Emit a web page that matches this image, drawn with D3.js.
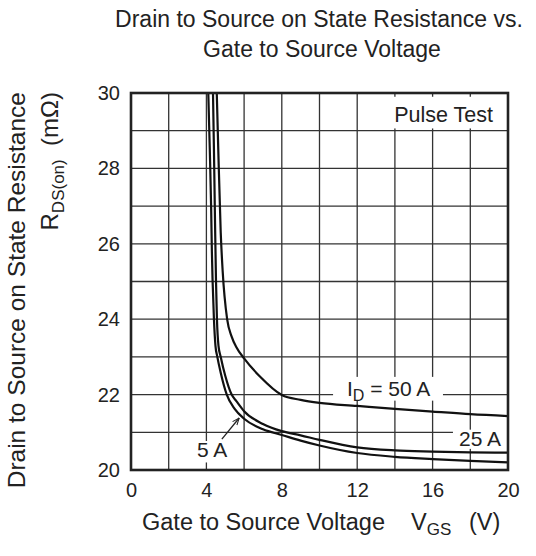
<!DOCTYPE html>
<html>
<head>
<meta charset="utf-8">
<script src="https://cdn.jsdelivr.net/npm/d3@7/dist/d3.min.js"></script>
<style>
  html, body { margin: 0; padding: 0; background: #fff; }
  svg { display: block; font-family: "Liberation Sans", Arial, Helvetica, sans-serif; }
</style>
</head>
<body>
<svg id="chart" width="536" height="556"></svg>
<script>
// ---- data (V_GS in volts, R_DS(on) in mΩ) ----
const curve5A = [[4.1,30],[4.18,28.5],[4.25,27],[4.29,25.8],[4.33,25],[4.4,24],[4.48,23.3],[4.58,23.0],[4.75,22.6],[5.08,22.0],[5.5,21.62],[6,21.36],[7,21.08],[8,20.93],[9,20.78],[10,20.65],[12,20.45],[14,20.35],[16,20.29],[18,20.24],[20,20.2]];
const curve25A = [[4.35,30],[4.4,28.5],[4.46,26.5],[4.51,25],[4.56,24],[4.64,23.3],[4.76,23.0],[5.0,22.5],[5.34,22.0],[5.6,21.82],[6,21.56],[7,21.22],[8,21.03],[9,20.92],[10,20.8],[12,20.6],[14,20.52],[16,20.49],[18,20.47],[20,20.46]];
const curve50A = [[4.55,30],[4.63,28.5],[4.76,26.3],[4.86,25.3],[5.1,24.0],[5.34,23.54],[5.6,23.25],[6,22.96],[6.84,22.48],[8,21.99],[9,21.86],[10,21.78],[12,21.7],[14,21.62],[16,21.55],[18,21.48],[20,21.43]];
const seriesLabels = ["5 A", "25 A", "50 A"];
const xTickLabels = [0, 4, 8, 12, 16, 20];
const yTickLabels = [20, 22, 24, 26, 28, 30];
const xGrid = [2, 4, 6, 8, 10, 12, 14, 16, 18];
const yGrid = [21, 22, 23, 24, 25, 26, 27, 28, 29];

const svg = d3.select("#chart");
const L = 131, R = 508, T = 93, B = 470;
const x = d3.scaleLinear().domain([0, 20]).range([L, R]);
const y = d3.scaleLinear().domain([20, 30]).range([B, T]);
const ink = "#222";

// grid
const g = svg.append("g");
g.selectAll("line.vx").data(xGrid).join("line")
  .attr("x1", d => x(d)).attr("x2", d => x(d)).attr("y1", T).attr("y2", B)
  .attr("stroke", "#333").attr("stroke-width", 1.3);
g.selectAll("line.hy").data(yGrid).join("line")
  .attr("y1", d => y(d)).attr("y2", d => y(d)).attr("x1", L).attr("x2", R)
  .attr("stroke", "#333").attr("stroke-width", 1.3);

// clip
svg.append("clipPath").attr("id", "clip").append("rect")
  .attr("x", L).attr("y", T).attr("width", R - L).attr("height", B - T);

// white boxes behind annotations
const boxes = [
  {x0: 13.6, x1: 19.8, y0: 29.9, y1: 29.06},
  {x0: 10.72, x1: 16.55, y0: 22.47, y1: 21.84},
  {x0: 17.08, x1: 20, y0: 21.07, y1: 20.56},
  {x0: 3.5, x1: 5.2, y0: 20.77, y1: 20.2}
];
svg.append("g").selectAll("rect").data(boxes).join("rect")
  .attr("x", d => x(d.x0)).attr("width", d => x(d.x1) - x(d.x0))
  .attr("y", d => y(d.y0)).attr("height", d => y(d.y1) - y(d.y0))
  .attr("fill", "#fff");

// curves
const line = d3.line().x(d => x(d[0])).y(d => y(d[1])).curve(d3.curveMonotoneX);
svg.append("g").attr("clip-path", "url(#clip)")
  .selectAll("path").data([curve5A, curve25A, curve50A]).join("path")
  .attr("d", line).attr("fill", "none").attr("stroke", "#111").attr("stroke-width", 2.2);

// frame
svg.append("rect").attr("x", L).attr("y", T).attr("width", R - L).attr("height", B - T)
  .attr("fill", "none").attr("stroke", ink).attr("stroke-width", 2.6);

// tick labels via d3 axes (no tick lines)
const xAxis = d3.axisBottom(x).tickValues(xTickLabels).tickSize(0).tickPadding(0);
const gx = svg.append("g").attr("transform", `translate(0,${B})`).call(xAxis);
gx.select(".domain").remove();
gx.selectAll("text").attr("font-size", 20).attr("fill", ink)
  .attr("font-family", "Liberation Sans, Arial, sans-serif").attr("dy", "1.33em");

const yAxis = d3.axisLeft(y).tickValues(yTickLabels).tickSize(0).tickPadding(11);
const gy = svg.append("g").attr("transform", `translate(${L},0)`).call(yAxis);
gy.select(".domain").remove();
gy.selectAll("text").attr("font-size", 20).attr("fill", ink)
  .attr("font-family", "Liberation Sans, Arial, sans-serif");

// title
const title = svg.append("text").attr("text-anchor", "middle").attr("font-size", 23).attr("fill", ink);
title.append("tspan").attr("x", 319).attr("y", 27).text("Drain to Source on State Resistance vs.");
title.append("tspan").attr("x", 322).attr("y", 57).text("Gate to Source Voltage");

// x axis label
const xl = svg.append("text").attr("y", 530).attr("font-size", 23.5).attr("fill", ink);
xl.append("tspan").attr("x", 142).text("Gate to Source Voltage");
xl.append("tspan").attr("x", 411).text("V");
xl.append("tspan").attr("font-size", 17).attr("dy", 5).text("GS");
xl.append("tspan").attr("x", 469).attr("dy", -5).text("(V)");

// y axis label
svg.append("text").attr("transform", "translate(25,92) rotate(-90)")
  .attr("text-anchor", "end").attr("font-size", 24.5).attr("fill", ink)
  .text("Drain to Source on State Resistance");
const yl2 = svg.append("text").attr("transform", "translate(58,92) rotate(-90)")
  .attr("text-anchor", "end").attr("font-size", 24).attr("fill", ink);
yl2.append("tspan").text("R");
yl2.append("tspan").attr("font-size", 17).attr("dy", 6).text("DS(on)");
yl2.append("tspan").attr("dy", -6).text("\u00a0\u00a0(m\u03a9)");

// annotations
svg.append("text").attr("x", 493).attr("y", 122).attr("text-anchor", "end")
  .attr("font-size", 21.5).attr("fill", ink).text("Pulse Test");

const a50 = svg.append("text").attr("x", 347).attr("y", 396).attr("font-size", 21).attr("fill", ink);
a50.append("tspan").text("I");
a50.append("tspan").attr("font-size", 16).attr("dy", 5).text("D");
a50.append("tspan").attr("dy", -5).text(" = " + seriesLabels[2]);

svg.append("text").attr("x", 501).attr("y", 446).attr("text-anchor", "end")
  .attr("font-size", 21).attr("fill", ink).text(seriesLabels[1]);

svg.append("text").attr("x", 197).attr("y", 457).attr("font-size", 21).attr("fill", ink).text(seriesLabels[0]);

// arrow to 5 A curve
svg.append("defs").append("marker").attr("id", "ah").attr("viewBox", "0 0 10 10")
  .attr("refX", 10).attr("refY", 5).attr("markerWidth", 7).attr("markerHeight", 7)
  .attr("orient", "auto").attr("markerUnits", "userSpaceOnUse")
  .append("path").attr("d", "M0,1 L10,5 L0,9").attr("fill", "none").attr("stroke", ink).attr("stroke-width", 1.5);
svg.append("line").attr("x1", x(4.82)).attr("y1", y(20.82)).attr("x2", x(5.74)).attr("y2", y(21.38))
  .attr("stroke", ink).attr("stroke-width", 1.3).attr("marker-end", "url(#ah)");
</script>
</body>
</html>
